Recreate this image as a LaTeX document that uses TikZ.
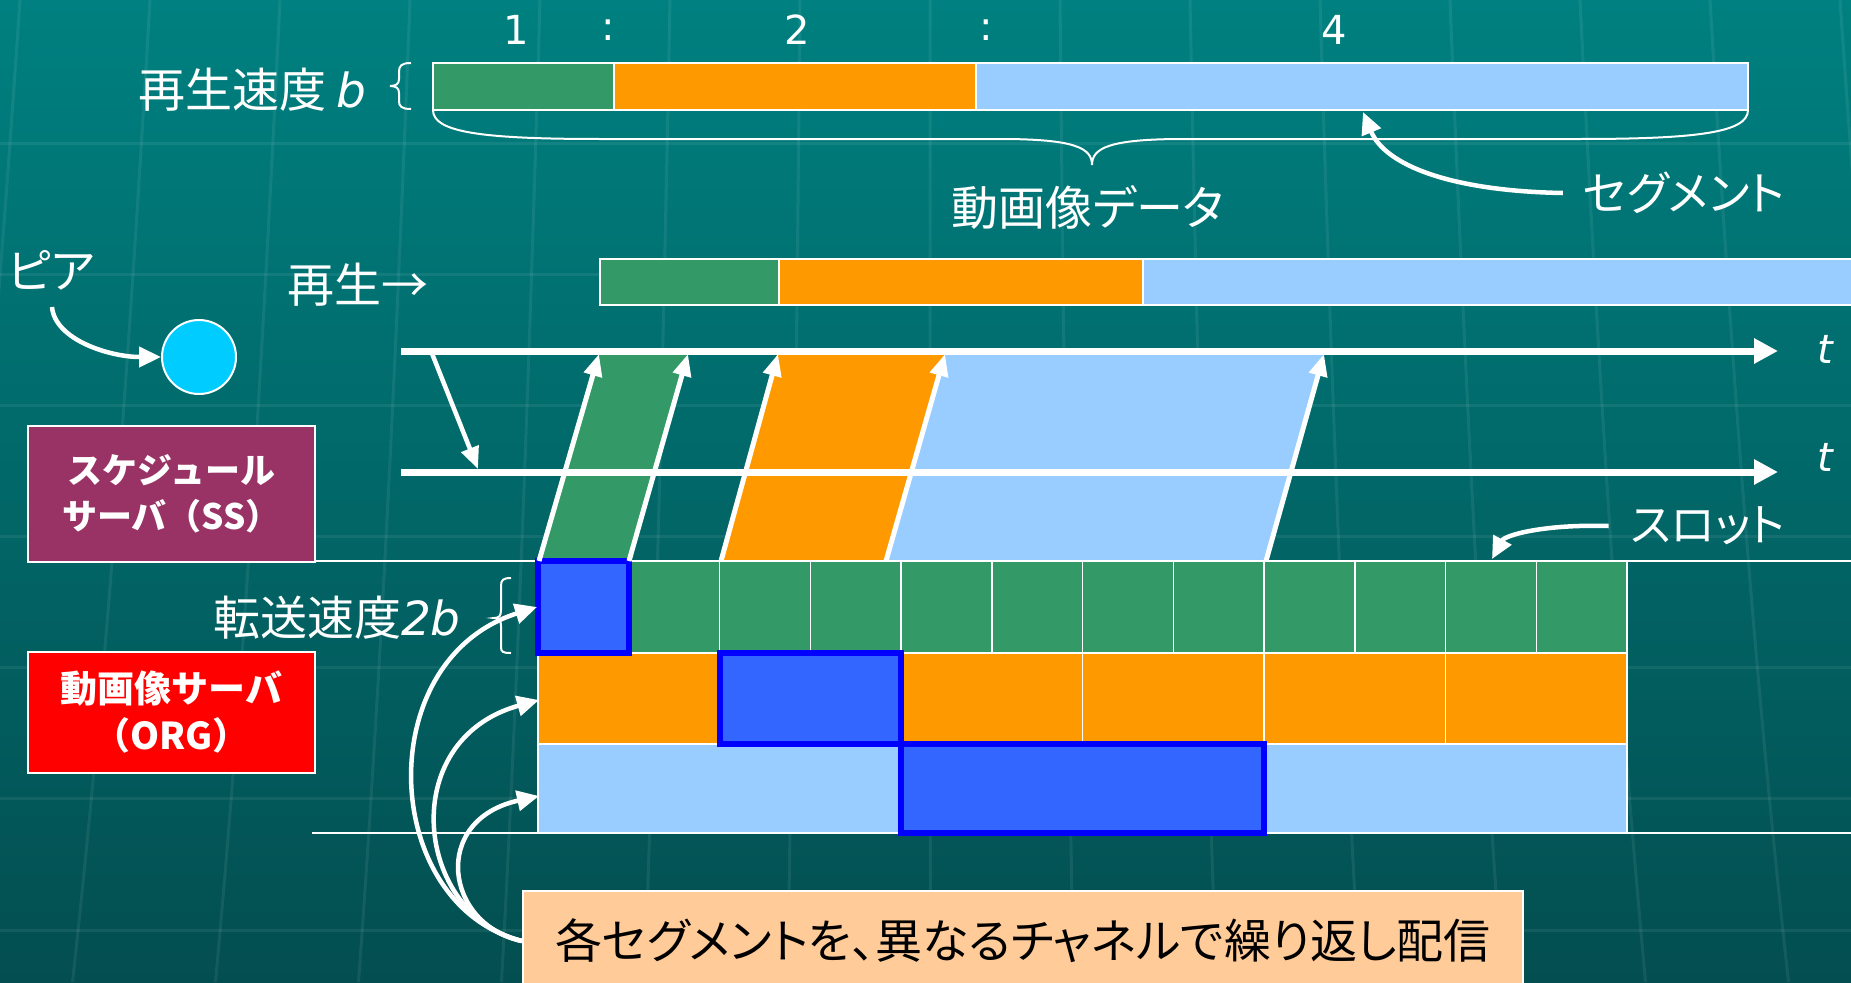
\documentclass[tikz,border=0pt]{standalone}
\usepackage{fontspec}
\usetikzlibrary{arrows.meta}
\newfontfamily\jp{Noto Sans CJK JP}[RawFeature=+palt]
\newfontfamily\jpn{Noto Sans CJK JP}
\newfontfamily\vd{DejaVu Sans}
\definecolor{bgtop}{RGB}{0,128,128}
\definecolor{bgbot}{RGB}{3,78,80}
\definecolor{seggreen}{RGB}{51,153,102}
\definecolor{segorange}{RGB}{255,153,0}
\definecolor{segblue}{RGB}{153,204,255}
\definecolor{hlfill}{RGB}{51,102,255}
\definecolor{hlborder}{RGB}{0,0,255}
\definecolor{ssbox}{RGB}{153,51,102}
\definecolor{orgbox}{RGB}{255,0,0}
\definecolor{callout}{RGB}{255,204,153}
\definecolor{peercol}{RGB}{0,204,255}
\tikzset{
  bar/.style={draw=white, line width=2pt},
  cell/.style={draw=white, line width=1.5pt},
  hl/.style={draw=hlborder, fill=hlfill, line width=6pt},
  thinw/.style={white, line width=2pt},
  axis/.style={white, line width=7pt, -{Triangle[length=24pt,width=24pt]}},
  up/.style={white, line width=5pt, -{Triangle[length=22pt,width=18pt]}},
  curv/.style={white, line width=4.5pt, -{Triangle[length=22pt,width=20pt]}},
  lab/.style={text=white, inner sep=0pt, font=\jp\fontsize{47pt}{52pt}\selectfont},
  srv/.style={draw=white, line width=2pt, text=white, align=center, inner sep=0pt,
    minimum width=287pt, font=\jpn\bfseries\fontsize{35pt}{46pt}\selectfont},
  faintl/.style={white, opacity=0.07, line width=3pt},
}
\begin{document}
\begin{tikzpicture}[x=1pt,y=-1pt]
\useasboundingbox (0,0) rectangle (1851,982);
\shade[top color=bgtop, bottom color=bgbot] (0,0) rectangle (1851,982);
% faint background texture
\foreach \yy in {143,274,405,536,667,798,930} \draw[faintl] (0,\yy) -- (1851,\yy);
\foreach \xx in {20,150,280,410,540,670,800,930,1060,1190,1320,1450,1580,1710,1840}
  \draw[faintl] (\xx,0) .. controls ({\xx+(\xx-925)*0.03},400) and ({\xx+(\xx-925)*0.06},700) .. ({\xx+(\xx-925)*0.1},982);

% ratio numbers
\foreach \xx/\tt in {516/1,608/:,797/2,986/:,1334/4}
  \node[text=white, font=\vd\fontsize{40pt}{44pt}\selectfont] at (\xx,30) {\tt};

% top bar (video data)
\draw[bar, fill=seggreen] (433,63) rectangle (614,110);
\draw[bar, fill=segorange] (614,63) rectangle (976,110);
\draw[bar, fill=segblue] (976,63) rectangle (1748,110);
\node[lab, anchor=east] (speed) at (367,90) {再生速度\hspace{10pt}{\vd\itshape b}};
% small brace
\draw[thinw] (411,63) .. controls (401,63) and (399,66) .. (399,72) -- (399,79)
  .. controls (399,84) and (396,86) .. (390,86) .. controls (396,86) and (399,88) .. (399,93)
  -- (399,101) .. controls (399,106) and (401,109) .. (411,109);
% big brace under bar
\draw[thinw] (433,110) .. controls (433,132) and (480,139) .. (600,139) -- (1000,139)
  .. controls (1075,139) and (1092,148) .. (1092,165)
  .. controls (1092,148) and (1109,139) .. (1184,139) -- (1580,139)
  .. controls (1700,139) and (1748,132) .. (1748,110);
\node[lab] (data) at (1088,207) {動画像データ};
\node[lab, font=\jp\fontsize{46pt}{50pt}\selectfont] (seg) at (1684,193) {セグメント};
\coordinate (segtip) at (1363,112);
\draw[white, line width=4.5pt, -{Triangle[length=22pt,width=20pt]}] ([xshift=-20pt]seg.west) .. controls (1450,191) and (1385,165) .. (segtip);

% peer
\node[lab] (peerlab) at (51,270) {ピア};
\node[circle, draw=white, line width=2pt, fill=peercol, minimum size=74pt, inner sep=0pt] (peer) at (199,357) {};
\draw[curv] (52,307) .. controls (55,340) and (110,357) .. (peer.west);

% playback bar
\node[lab] (play) at (358,285) {再生→};
\draw[bar, fill=seggreen] (600,259) rectangle (779,305);
\draw[bar, fill=segorange] (779,259) rectangle (1143,305);
\draw[bar, fill=segblue] (1143,259) rectangle (1870,305);

% servers
\node[srv, fill=ssbox, minimum height=136pt] (ss) at (171.5,494) {スケジュール\\サーバ（SS）};
\node[srv, fill=orgbox, minimum height=121pt, font=\jpn\bfseries\fontsize{37pt}{47pt}\selectfont] (org) at (171.5,712.5) {動画像サーバ\\（ORG）};

% horizontal separators
\draw[thinw] (ss.east |- 0,561) -- (1851,561);
\draw[thinw] (312,833) -- (1851,833);

% transmitted segments (parallelograms)
\fill[seggreen] (539,561) -- (629,561) -- (688,351) -- (599,351) -- cycle;
\fill[segorange] (721,561) -- (886,561) -- (945,351) -- (778,351) -- cycle;
\fill[segblue] (886,561) -- (1266,561) -- (1324,351) -- (945,351) -- cycle;

% slot grid
\foreach \i in {0,...,11} \draw[cell, fill=seggreen] ({538+90.75*\i},561) rectangle ({538+90.75*(\i+1)},653);
\foreach \i in {0,...,5} \draw[cell, fill=segorange] ({538+181.5*\i},653) rectangle ({538+181.5*(\i+1)},744);
\foreach \i in {0,1,2} \draw[cell, fill=segblue] ({538+363*\i},744) rectangle ({538+363*(\i+1)},833);
\draw[hl] (538,561) rectangle (629,653);
\draw[hl] (719.5,653) rectangle (901,744);
\draw[hl] (901,744) rectangle (1264,833);

% time axes
\coordinate (a1s) at (401,351); \coordinate (a1e) at (1778,351);
\coordinate (a2s) at (401,472); \coordinate (a2e) at (1778,472);
\draw[axis] (a1s) -- (a1e);
\draw[axis] (a2s) -- (a2e);
\node[text=white, font=\vd\itshape\fontsize{40pt}{44pt}\selectfont] (t1) at (1825,349) {t};
\node[text=white, font=\vd\itshape\fontsize{40pt}{44pt}\selectfont] (t2) at (1825,457) {t};
\coordinate (reqs) at (431,351); \coordinate (reqe) at (478,469);
\draw[white, line width=4.5pt, -{Triangle[length=22pt,width=18pt]}] (reqs) -- (reqe);

% delivery arrows
\foreach \bx/\tx in {539/599,629/688,721/778,886/945,1266/1324}
  \draw[up] (\bx,561) -- (\tx,354);

% slot label
\node[lab, font=\jp\fontsize{45pt}{50pt}\selectfont] (slot) at (1708,526) {スロット};
\coordinate (slottip) at (1492,559);
\draw[white, line width=4.5pt, -{Triangle[length=22pt,width=20pt]}] ([xshift=-22pt]slot.west) .. controls (1545,524) and (1505,535) .. (slottip);

% transfer rate
\node[lab, anchor=east] (rate) at (461,618) {転送速度{\vd\itshape 2b}};
\draw[thinw] (511,578) .. controls (503,578) and (501,580) .. (501,586) -- (501,610)
  .. controls (501,616) and (499,618) .. (494,618) .. controls (499,618) and (501,620) .. (501,626)
  -- (501,647) .. controls (501,652) and (503,653) .. (511,653);

% callout
\node[draw=white, line width=2pt, fill=callout, minimum width=1000pt, minimum height=100pt, inner sep=0pt,
  text=black, font=\jp\fontsize{47pt}{52pt}\selectfont] (note) at (1023,941) {各セグメントを、異なるチャネルで繰り返し配信};
\coordinate (r1) at (537,607);
\coordinate (r2) at (539,700);
\coordinate (r3) at (539,796);
\draw[curv] (note.west) .. controls (380,905) and (370,660) .. (r1);
\draw[curv] (note.west) .. controls (415,915) and (395,740) .. (r2);
\draw[curv] (note.west) .. controls (445,925) and (430,820) .. (r3);
\end{tikzpicture}
\end{document}
